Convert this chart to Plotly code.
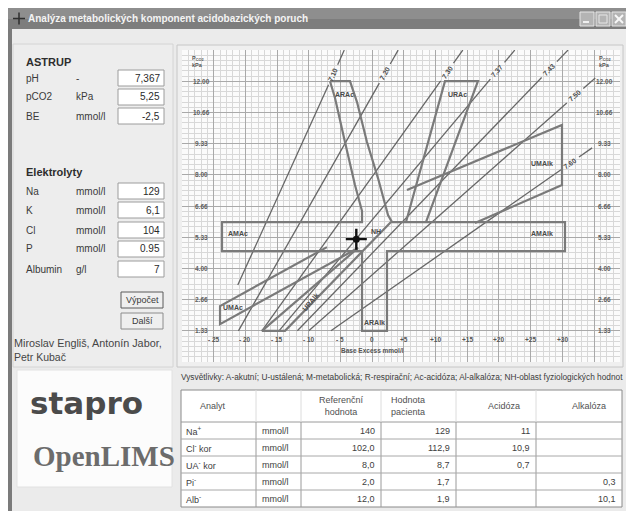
import math
import numpy as np
import plotly.graph_objects as go

W, H = 626, 511

# ---------------- data ----------------
# ASTRUP inputs (pH, pCO2 in kPa, BE in mmol/l)
astrup_labels = ["pH", "pCO2", "BE"]
astrup_units = ["-", "kPa", "mmol/l"]
astrup_values = [7.367, 5.25, -2.5]
astrup_decimals = [3, 2, 1]

# electrolyte inputs as entered in the form
electro_labels = ["Na", "K", "Cl", "P", "Albumin"]
electro_units = ["mmol/l", "mmol/l", "mmol/l", "mmol/l", "g/l"]
electro_text = ["129", "6,1", "104", "0.95", "7"]

# pH isopleths: end points (BE mmol/l, pCO2 kPa)
ph_labels = ["7.10", "7.20", "7.30", "7.37", "7.43", "7.50", "7.60"]
ph_be_low = [-21.2, -21.1, -17.4, -14.7, -11.8, -10.0, -6.5]
ph_pco2_low = [3.29, 1.333, 1.333, 1.333, 1.333, 1.333, 1.333]
ph_be_high = [-4.4, 4.1, 14.3, 22.5, 30.9, 35.2, 34.7]
ph_pco2_high = [13.33, 13.33, 13.33, 13.33, 13.33, 12.14, 9.15]

# diagnostic zones (outlines)
cross_be = [-6.65, -3.5, -2.39, -0.82, 0.92, 2.5, 3.13, 30.42, 30.42, 2.34, 2.34,
            -1.6, -1.6, -23.69, -23.69, -1.6, -1.6, -2.71, -4.29, -5.86, -6.65]
cross_pco2 = [12.0, 12.0, 11.11, 9.40, 7.86, 6.28, 5.98, 5.98, 4.74, 4.74, 1.333,
              1.333, 4.74, 4.74, 5.98, 5.98, 6.45, 7.56, 9.40, 11.28, 12.0]
urac_be = [5.34, 11.49, 16.69, 8.49]
urac_pco2 = [5.98, 12.0, 12.0, 5.98]
umalk_be = [5.49, 29.95, 29.95, 16.22]
umalk_pco2 = [7.35, 10.13, 7.56, 5.94]
umac_be = [-7.13, -24.0, -24.0, -2.24]
umac_pco2 = [4.91, 2.39, 1.62, 4.87]
uralk_be = [-2.24, -17.38, -13.75, 2.97]
uralk_pco2 = [4.87, 1.333, 1.333, 5.98]

zone_names = ["ARAc", "URAc", "UMAlk", "AMAc", "AMAlk", "NH", "ARAlk", "UMAc", "URAlk"]
zone_label_be = [-4.4, 13.4, 26.8, -21.2, 26.8, 0.6, 0.4, -22.0, -9.8]
zone_label_pco2 = [11.45, 11.45, 8.5, 5.51, 5.51, 5.56, 1.67, 2.31, 2.56]

# axis annotations
be_ticks = [-25, -20, -15, -10, -5, 0, 5, 10, 15, 20, 25, 30]
be_tick_text = ["- 25", "- 20", "- 15", "- 10", "- 5", "0", "+5", "+10", "+15", "+20", "+25", "+30"]
pco2_tick_text = ["12.00", "10.66", "9.33", "8.00", "6.66", "5.33", "4.00", "2.66", "1.33"]

# result table
table_header = ["Analyt", "", "Referenční<br>hodnota", "Hodnota<br>pacienta", "Acidóza", "Alkalóza"]
table_analytes = ["Na<sup>+</sup>", "Cl<sup>-</sup> kor", "UA<sup>-</sup> kor", "Pi<sup>-</sup>", "Alb<sup>-</sup>"]
table_units = ["mmol/l", "mmol/l", "mmol/l", "mmol/l", "mmol/l"]
table_reference = [140, 102.0, 8.0, 2.0, 12.0]
table_patient = [129, 112.9, 8.7, 1.7, 1.9]
table_acidosis = [11, 10.9, 0.7, None, None]
table_alkalosis = [None, None, None, 0.3, 10.1]
row_decimals = [0, 1, 1, 1, 1]

legend_text = ("Vysvětlivky: A-akutní; U-ustálená; M-metabolická; R-respirační; "
               "Ac-acidóza; Al-alkalóza; NH-oblast fyziologických hodnot")

# ---------------- helpers ----------------
UI = "Liberation Sans, Arial, sans-serif"
shapes, annos = [], []
fig = go.Figure()


def fx(px):
    return px / W


def fy(py):
    return 1 - py / H


def rect(x0, y0, x1, y1, fill, line=None, lw=1):
    shapes.append(dict(type="rect", xref="paper", yref="paper", layer="below",
                       x0=fx(x0), x1=fx(x1), y0=fy(y1), y1=fy(y0), fillcolor=fill,
                       line=dict(color=line if line else fill, width=lw if line else 0)))


def seg(x0, y0, x1, y1, color, lw=1, layer="below"):
    shapes.append(dict(type="line", xref="paper", yref="paper", layer=layer,
                       x0=fx(x0), x1=fx(x1), y0=fy(y0), y1=fy(y1),
                       line=dict(color=color, width=lw)))


def text(s, x, y, size=10, color="#3a3a3a", xanchor="left", family=UI, **kw):
    annos.append(dict(text=s, xref="paper", yref="paper", x=fx(x), y=fy(y),
                      showarrow=False, xanchor=xanchor, yanchor="middle",
                      font=dict(size=size, color=color, family=family), **kw))


def cz(v, d):
    return f"{v:.{d}f}".replace(".", ",")


# ---------------- window chrome ----------------
rect(8, 8, 626, 511, "#ebebeb")
rect(8, 8, 12, 511, "#7b7b7b")
rect(8, 8, 626, 19, "#8e8e8e")
rect(8, 19, 626, 29, "#7d7d7d")
text("<b>Analýza metabolických komponent acidobazických poruch</b>", 26, 18.5,
     size=10, color="#f4f4f4")
seg(13, 18.5, 25, 18.5, "#2e2e2e", 1.5, "above")
seg(19, 12.5, 19, 24.5, "#2e2e2e", 1.5, "above")
for bx in (580, 596, 612):
    rect(bx, 12, bx + 14, 26, "#b4b4b4", "#e6e6e6", 1)
seg(583, 22, 589, 22, "#f0f0f0", 2, "above")
rect(599, 15, 607, 23, "rgba(0,0,0,0)", "#e6e6e6", 1)
seg(615, 15, 623, 23, "#f8f8f8", 2, "above")
seg(615, 23, 623, 15, "#f8f8f8", 2, "above")

# left input panel
rect(13, 44, 173, 367, "#ededed", "#d4d4d4", 1)
text("<b>ASTRUP</b>", 24, 62, size=11, color="#2e2e2e")
astrup_y = [78, 97, 116]
for lab, unit, val, dec, yy in zip(astrup_labels, astrup_units, astrup_values, astrup_decimals, astrup_y):
    text(lab, 24, yy, size=10)
    text(unit, 74, yy, size=10)
    rect(118, yy - 8, 164, yy + 8, "#ffffff", "#9c9c9c", 1)
    text(cz(val, dec), 162, yy, size=10, xanchor="right", color="#2a2a2a")

text("<b>Elektrolyty</b>", 24, 172, size=11, color="#2e2e2e")
electro_y = [191, 210, 230, 249, 269]
for lab, unit, val, yy in zip(electro_labels, electro_units, electro_text, electro_y):
    text(lab, 24, yy, size=10)
    text(unit, 74, yy, size=10)
    rect(118, yy - 8, 164, yy + 8, "#ffffff", "#9c9c9c", 1)
    text(val, 162, yy, size=10, xanchor="right", color="#2a2a2a")

rect(121, 292, 163, 308, "#efefef", "#5a5a5a", 1)
text("Výpočet", 142, 300, size=9, xanchor="center")
rect(121, 313, 163, 329, "#efefef", "#8c8c8c", 1)
text("Další", 142, 321, size=9, xanchor="center")
text("Miroslav Engliš, Antonín Jabor,", 12, 343, size=10.8, color="#454545")
text("Petr Kubač", 12, 357, size=10.5, color="#454545")

# logo box
rect(17, 370, 172, 487, "#fcfcfc", "#e2e2e2", 1)
text("<b>stapro</b>", 86, 403, size=31, color="#4b4b4b", xanchor="center",
     family="DejaVu Sans, sans-serif")
text("<b>OpenLIMS</b>", 104, 456, size=29, color="#6c6c6c", xanchor="center",
     family="Liberation Serif, DejaVu Serif, serif")

# chart panel and plotting surface
rect(177, 45, 623, 367, "#efefef", "#c6c6c6", 1)
rect(182, 50, 620, 362, "#fbfbfb")

# ---------------- nomogram ----------------
line_kw = dict(mode="lines", hoverinfo="skip", showlegend=False)
zone_style = dict(color="#7a7a7a", width=2.2)

# pixel scale of the axes (used to keep label gaps and angles on screen)
kx = (620 - 182) / (39.1 - (-30.0))
ky = (362 - 50) / (40 / 3)

for lab, b0, p0, b1, p1 in zip(ph_labels, ph_be_low, ph_pco2_low, ph_be_high, ph_pco2_high):
    dxp, dyp = (b1 - b0) * kx, (p1 - p0) * ky
    L = math.hypot(dxp, dyp)
    ux, uy = dxp / L, dyp / L
    # label sits a fixed screen distance below the upper end of the line
    bl, pl = b1 - 27 * ux / kx, p1 - 27 * uy / ky
    gap = 11.0
    db, dp = gap * ux / kx, gap * uy / ky
    fig.add_trace(go.Scatter(x=[b0, bl - db, None, bl + db, b1],
                             y=[p0, pl - dp, None, pl + dp, p1],
                             line=dict(color="#666666", width=1.3), **line_kw))
    ang = math.degrees(math.atan2(dyp, dxp))
    annos.append(dict(text=f"<b>{lab}</b>", x=bl, y=pl, xref="x", yref="y",
                      showarrow=False, textangle=-ang,
                      font=dict(size=7, color="#4a4a4a", family=UI)))

for bx, py_ in ((cross_be, cross_pco2), (urac_be, urac_pco2), (umalk_be, umalk_pco2),
                (umac_be, umac_pco2), (uralk_be, uralk_pco2)):
    fig.add_trace(go.Scatter(x=bx, y=py_, line=zone_style, **line_kw))

for name, b, p in zip(zone_names, zone_label_be, zone_label_pco2):
    ang = -50 if name == "URAlk" else 0
    annos.append(dict(text=f"<b>{name}</b>", x=b, y=p, xref="x", yref="y",
                      showarrow=False, textangle=ang,
                      font=dict(size=7, color="#4a4a4a", family=UI)))

# patient point
fig.add_trace(go.Scatter(x=[astrup_values[2]], y=[astrup_values[1]], mode="markers",
                         marker=dict(symbol="cross-thin-open", size=15, color="#111111",
                                     line=dict(color="#111111", width=2.4)),
                         hoverinfo="skip", showlegend=False))
fig.add_trace(go.Scatter(x=[astrup_values[2]], y=[astrup_values[1]], mode="markers",
                         marker=dict(symbol="circle", size=7, color="#111111"),
                         hoverinfo="skip", showlegend=False))

# axis texts drawn inside the grid
for t_ in pco2_tick_text:
    v = float(t_)
    for bpos in (-26.9, 36.6):
        annos.append(dict(text=f"<b>{t_}</b>", x=bpos, y=v, xref="x", yref="y",
                          showarrow=False, font=dict(size=6.5, color="#606060", family=UI)))
for v, t_ in zip(be_ticks, be_tick_text):
    annos.append(dict(text=f"<b>{t_}</b>", x=v, y=0.98, xref="x", yref="y",
                      showarrow=False, font=dict(size=6.5, color="#555555", family=UI)))
annos.append(dict(text="<b>Base Excess mmol/l</b>", x=0, y=0.5, xref="x", yref="y",
                  showarrow=False, font=dict(size=6.5, color="#555555", family=UI)))
for bpos in (-28.8, 35.4):
    annos.append(dict(text="<b>P<sub>CO2</sub><br>kPa</b>", x=bpos, y=12.85, xref="x", yref="y",
                      showarrow=False, xanchor="left", align="left",
                      font=dict(size=5.5, color="#555555", family=UI)))

# ---------------- legend text and table ----------------
text(legend_text, 179, 377, size=8.3, color="#3c3c3c")

cols = [181, 256, 301, 381, 456, 536, 622]
hdr_top, hdr_bot, row_h = 390, 422, 17
rect(cols[0], hdr_top, cols[-1], hdr_bot + 5 * row_h, "#ffffff", "#8a8a8a", 1)
seg(cols[0], hdr_bot, cols[-1], hdr_bot, "#9a9a9a", 1)
for c in cols[1:-1]:
    seg(c, hdr_top, c, hdr_bot, "#dcdcdc", 1)
    seg(c, hdr_bot, c, hdr_bot + 5 * row_h, "#9a9a9a", 1)
for r in range(1, 5):
    yy = hdr_bot + r * row_h
    seg(cols[0], yy, cols[-1], yy, "#a8a8a8", 1)

hdr_x = [213, None, 341, 408, 504, 589]
for h, hx in zip(table_header, hdr_x):
    if h:
        text(h, hx, 406, size=9, color="#505050", xanchor="center", align="center")

for i in range(5):
    yy = hdr_bot + i * row_h + row_h / 2
    d = row_decimals[i]
    text(table_analytes[i], cols[0] + 3, yy, size=9, color="#404040")
    text(table_units[i], cols[1] + 4, yy, size=9, color="#404040")
    for ci, arr in zip((2, 3, 4, 5), (table_reference, table_patient, table_acidosis, table_alkalosis)):
        if arr[i] is not None:
            text(cz(arr[i], d), cols[ci + 1] - 4, yy, size=9, color="#404040", xanchor="right")

# ---------------- layout ----------------
axis_common = dict(showticklabels=False, ticks="", zeroline=False, showline=False,
                   fixedrange=True, showgrid=True, gridwidth=1)
fig.update_layout(
    width=W, height=H, margin=dict(l=0, r=0, t=0, b=0),
    paper_bgcolor="#ffffff", plot_bgcolor="rgba(0,0,0,0)",
    xaxis=dict(domain=[182 / W, 620 / W], range=[-30.0, 39.1], tick0=0, dtick=5,
               gridcolor="#a9a9a9",
               minor=dict(tick0=0, dtick=1, showgrid=True, gridcolor="#d8d8d8", gridwidth=1),
               **axis_common),
    yaxis=dict(domain=[1 - 362 / H, 1 - 50 / H], range=[0, 40 / 3], tick0=0, dtick=4 / 3,
               gridcolor="#a9a9a9",
               minor=dict(tick0=0, dtick=4 / 18, showgrid=True, gridcolor="#d8d8d8", gridwidth=1),
               **axis_common),
    shapes=shapes, annotations=annos, showlegend=False,
)

fig.write_html("out.html")
